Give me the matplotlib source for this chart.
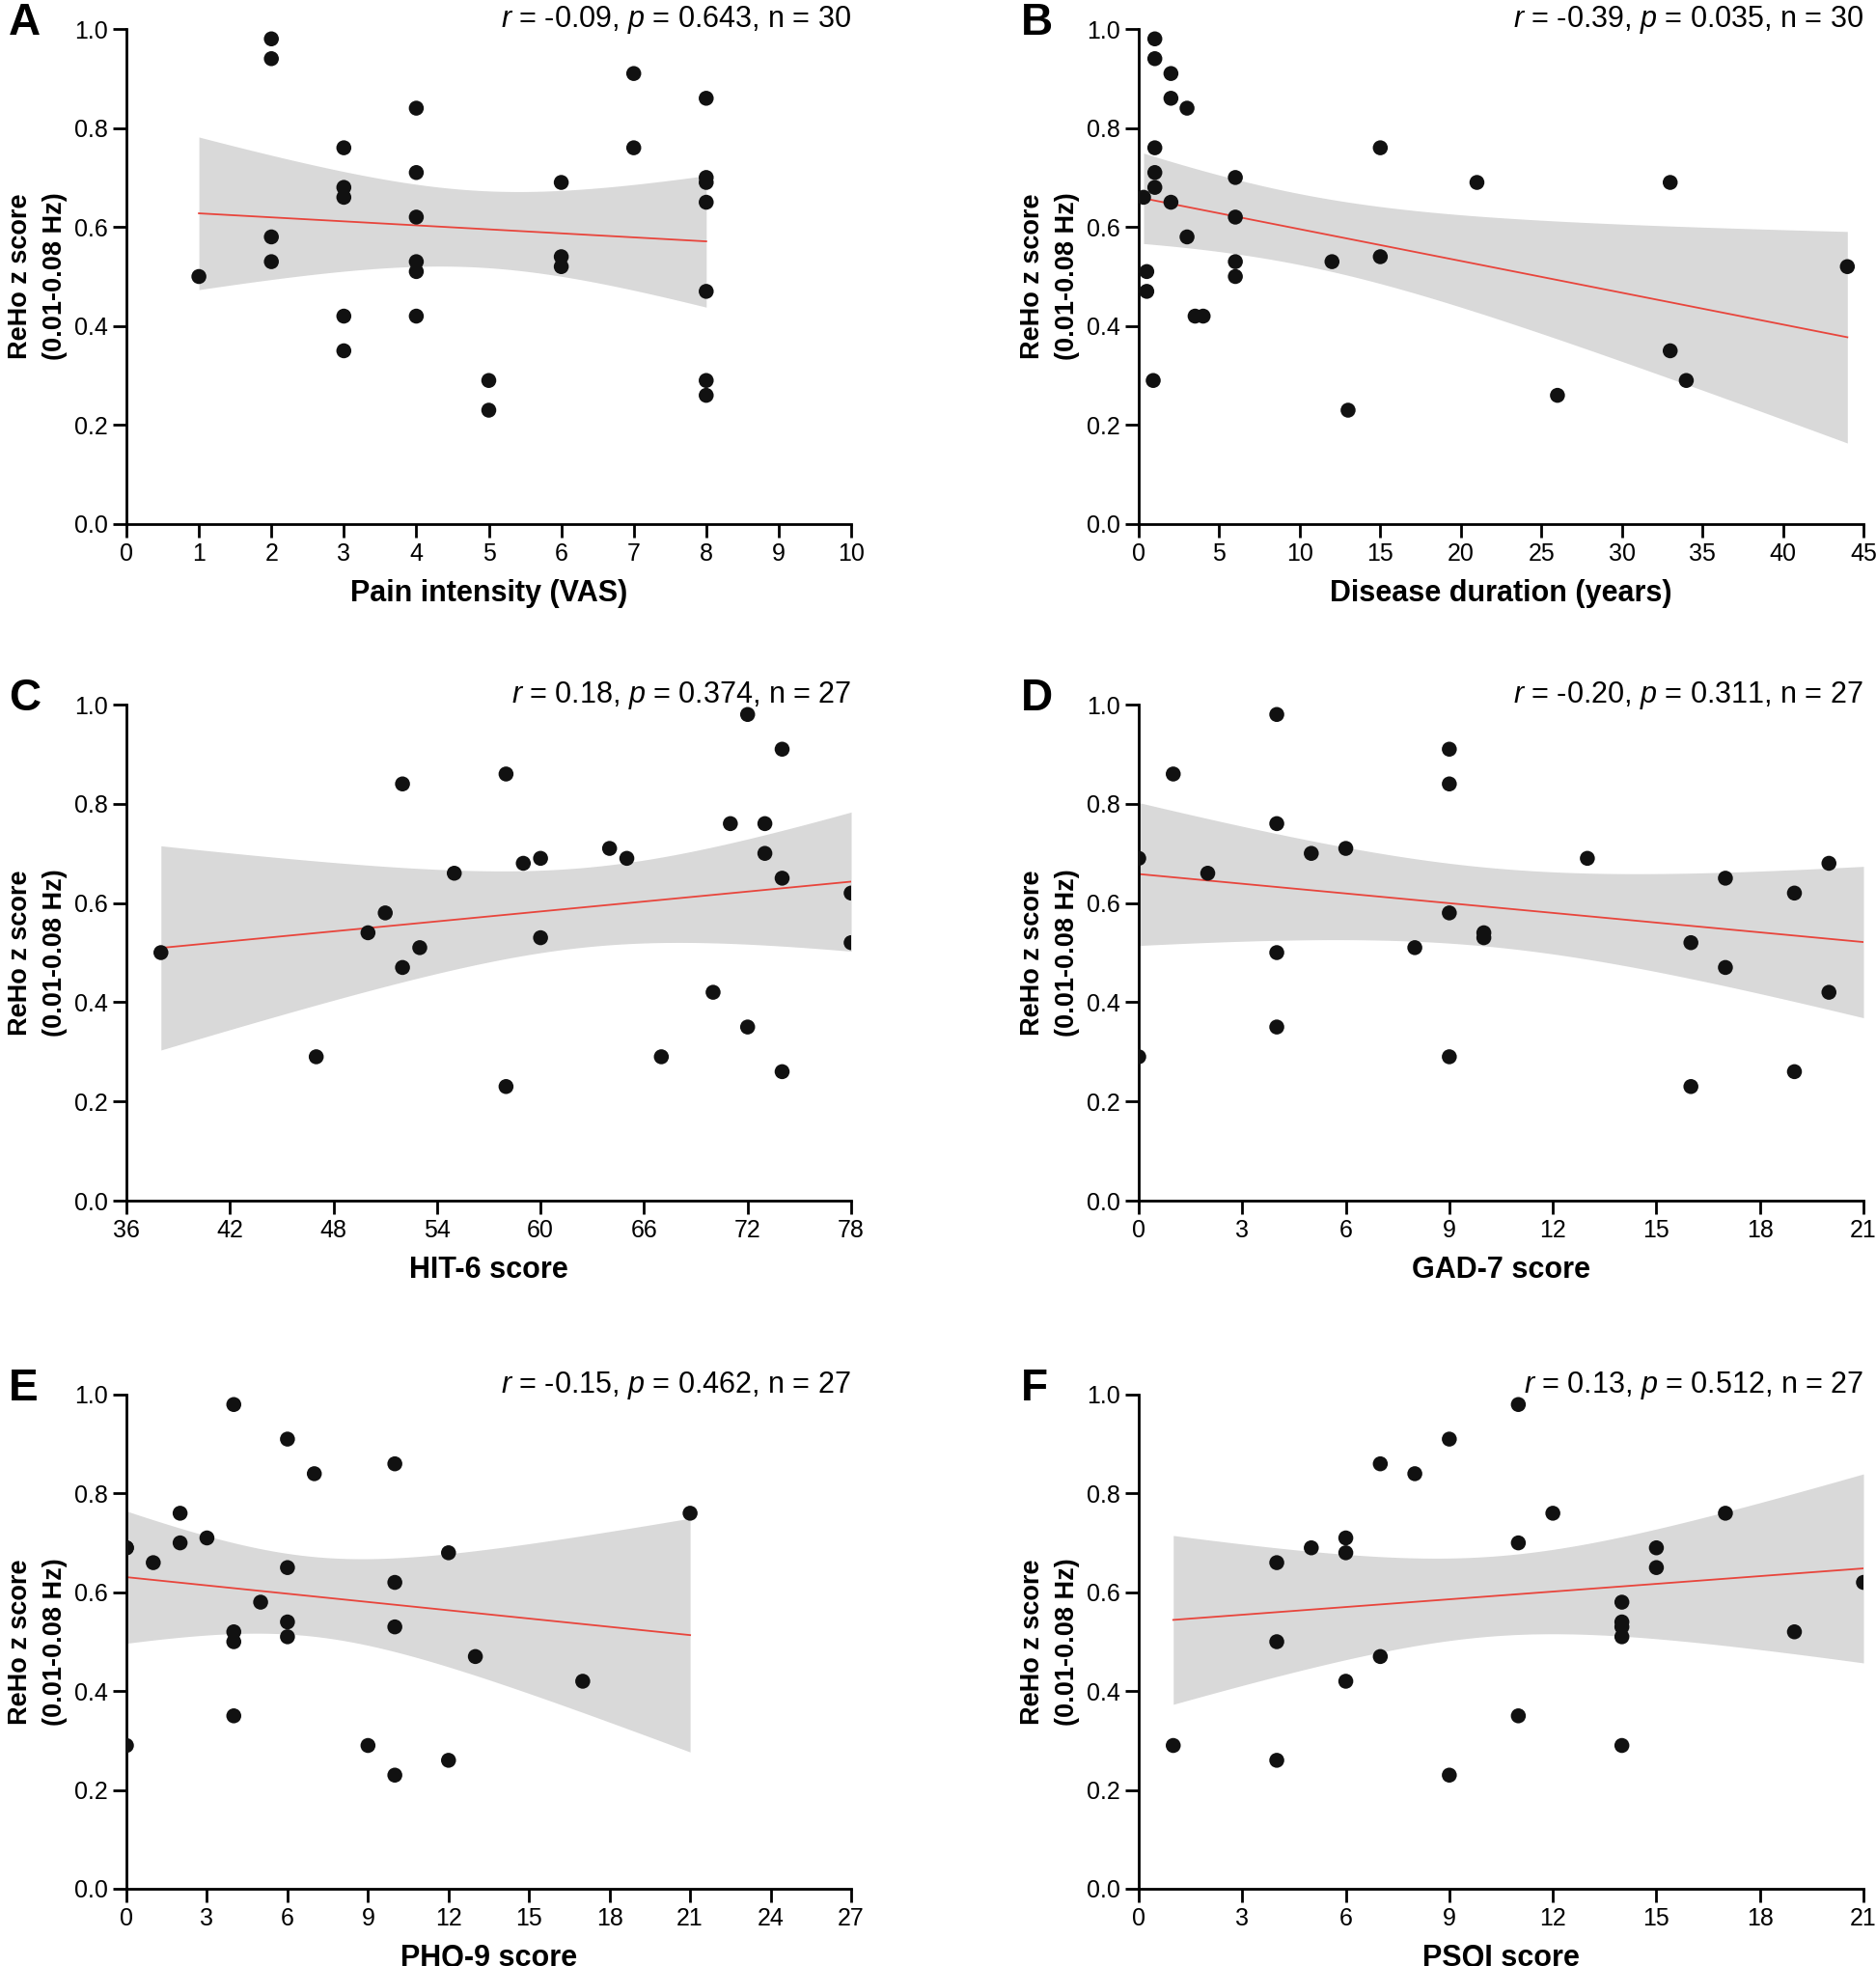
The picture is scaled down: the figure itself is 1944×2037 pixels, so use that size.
import math
import numpy as np
import matplotlib
matplotlib.use("Agg")
import matplotlib.pyplot as plt

plt.rcParams['font.family'] = ['Liberation Sans', 'DejaVu Sans']
plt.rcParams['mathtext.fontset'] = 'custom'
plt.rcParams['mathtext.rm'] = 'Liberation Sans'
plt.rcParams['mathtext.it'] = 'Liberation Sans:italic'

# ---------------- data ----------------
vas_x = [1, 2, 2, 2, 2, 3, 3, 3, 3, 3, 4, 4, 4, 4, 4, 4, 5, 5, 6, 6, 6, 7, 7, 8, 8, 8, 8, 8, 8, 8]
vas_y = [0.50, 0.98, 0.94, 0.58, 0.53, 0.76, 0.68, 0.66, 0.42, 0.35, 0.84, 0.71, 0.62, 0.53, 0.51, 0.42,
         0.29, 0.23, 0.69, 0.54, 0.52, 0.91, 0.76, 0.86, 0.70, 0.69, 0.65, 0.47, 0.29, 0.26]

dur_x = [1, 1, 2, 2, 3, 1, 1, 1, 0.3, 2, 3, 0.5, 0.5, 3.5, 4, 0.9, 6, 6, 6, 6, 12, 13, 15, 15, 21, 26, 33, 33, 34, 44]
dur_y = [0.98, 0.94, 0.91, 0.86, 0.84, 0.76, 0.71, 0.68, 0.66, 0.65, 0.58, 0.51, 0.47, 0.42, 0.42, 0.29,
         0.70, 0.62, 0.53, 0.50, 0.53, 0.23, 0.76, 0.54, 0.69, 0.26, 0.69, 0.35, 0.29, 0.52]

hit_x = [38, 47, 50, 51, 52, 52, 53, 55, 58, 58, 59, 60, 60, 64, 65, 67, 70, 71, 72, 72, 73, 73, 74, 74, 74, 78, 78]
hit_y = [0.50, 0.29, 0.54, 0.58, 0.84, 0.47, 0.51, 0.66, 0.86, 0.23, 0.68, 0.69, 0.53, 0.71, 0.69, 0.29,
         0.42, 0.76, 0.98, 0.35, 0.76, 0.70, 0.91, 0.65, 0.26, 0.62, 0.52]

# GAD-7: 26 visible points; the 27th subject (x=21) is not visible in the figure but enters the fit
gad_x = [0, 0, 1, 2, 4, 4, 4, 4, 5, 6, 8, 9, 9, 9, 9, 10, 10, 13, 16, 16, 17, 17, 19, 19, 20, 20]
gad_y = [0.69, 0.29, 0.86, 0.66, 0.98, 0.76, 0.50, 0.35, 0.70, 0.71, 0.51, 0.91, 0.84, 0.58, 0.29,
         0.54, 0.53, 0.69, 0.52, 0.23, 0.65, 0.47, 0.62, 0.26, 0.68, 0.42]
gad_hidden_x = [21]
gad_hidden_y = [0.76]

phq_x = [0, 0, 0, 1, 2, 2, 3, 4, 4, 4, 4, 5, 6, 6, 6, 6, 7, 9, 10, 10, 10, 10, 12, 12, 13, 17, 21]
phq_y = [0.69, 0.69, 0.29, 0.66, 0.76, 0.70, 0.71, 0.98, 0.52, 0.50, 0.35, 0.58, 0.91, 0.65, 0.54, 0.51,
         0.84, 0.29, 0.86, 0.62, 0.53, 0.23, 0.68, 0.26, 0.47, 0.42, 0.76]

psqi_x = [1, 4, 4, 4, 5, 6, 6, 6, 7, 7, 8, 9, 9, 11, 11, 11, 12, 14, 14, 14, 14, 14, 15, 15, 17, 19, 21]
psqi_y = [0.29, 0.66, 0.50, 0.26, 0.69, 0.71, 0.68, 0.42, 0.86, 0.47, 0.84, 0.91, 0.23, 0.98, 0.70, 0.35,
          0.76, 0.58, 0.54, 0.53, 0.51, 0.29, 0.69, 0.65, 0.76, 0.52, 0.62]

panel_letters = ['A', 'B', 'C', 'D', 'E', 'F']
x_labels = ['Pain intensity (VAS)', 'Disease duration (years)', 'HIT-6 score',
            'GAD-7 score', 'PHQ-9 score', 'PSQI score']
stats_text = ['$\\mathit{r}$ = -0.09, $\\mathit{p}$ = 0.643, n = 30',
              '$\\mathit{r}$ = -0.39, $\\mathit{p}$ = 0.035, n = 30',
              '$\\mathit{r}$ = 0.18, $\\mathit{p}$ = 0.374, n = 27',
              '$\\mathit{r}$ = -0.20, $\\mathit{p}$ = 0.311, n = 27',
              '$\\mathit{r}$ = -0.15, $\\mathit{p}$ = 0.462, n = 27',
              '$\\mathit{r}$ = 0.13, $\\mathit{p}$ = 0.512, n = 27']
x_ranges = [(0, 10, 1), (0, 45, 5), (36, 78, 6), (0, 21, 3), (0, 27, 3), (0, 21, 3)]
y_label = 'ReHo z score\n(0.01-0.08 Hz)'
y_ticks = [0.0, 0.2, 0.4, 0.6, 0.8, 1.0]

# (drawn x, drawn y, extra x for fit only, extra y for fit only)
datasets = [(vas_x, vas_y, [], []), (dur_x, dur_y, [], []), (hit_x, hit_y, [], []),
            (gad_x, gad_y, gad_hidden_x, gad_hidden_y), (phq_x, phq_y, [], []),
            (psqi_x, psqi_y, [], [])]


def t_crit(df):
    try:
        from scipy import stats
        return stats.t.ppf(0.975, df)
    except Exception:
        z = 1.959964
        return (z + (z**3 + z) / (4 * df) + (5 * z**5 + 16 * z**3 + 3 * z) / (96 * df**2))


def fit_ci(x, y):
    x = np.asarray(x, float)
    y = np.asarray(y, float)
    n = len(x)
    b, a = np.polyfit(x, y, 1)
    xs = np.linspace(x.min(), x.max(), 200)
    yhat = a + b * xs
    resid = y - (a + b * x)
    s = math.sqrt(np.sum(resid**2) / (n - 2))
    sxx = np.sum((x - x.mean())**2)
    se = s * np.sqrt(1.0 / n + (xs - x.mean())**2 / sxx)
    t = t_crit(n - 2)
    return xs, yhat, yhat - t * se, yhat + t * se


W, H = 1944, 2037
fig = plt.figure(figsize=(W / 100, H / 100), dpi=100)

cols = [(131, 882), (1180, 1931)]
rows = [(30, 543), (730, 1244), (1445, 1957)]

for i, (xd, yd, xh, yh) in enumerate(datasets):
    r, c = divmod(i, 2)
    l, rr = cols[c]
    t, b = rows[r]
    ax = fig.add_axes([l / W, 1 - b / H, (rr - l) / W, (b - t) / H])
    xs, yhat, lo, hi = fit_ci(list(xd) + list(xh), list(yd) + list(yh))
    ax.fill_between(xs, lo, hi, color='#d9d9d9', lw=0, zorder=1)
    ax.plot(xs, yhat, color='#e8453c', lw=1.3, zorder=2)
    ax.scatter(xd, yd, s=125, color='#111111', edgecolors='none', zorder=3)

    x0, x1, step = x_ranges[i]
    ax.set_xlim(x0, x1)
    ax.set_ylim(0, 1.0)
    ax.set_xticks(np.arange(x0, x1 + 0.001, step))
    ax.set_yticks(y_ticks)
    ax.set_yticklabels([f'{v:.1f}' for v in y_ticks])
    for sp in ['top', 'right']:
        ax.spines[sp].set_visible(False)
    for sp in ['left', 'bottom']:
        ax.spines[sp].set_linewidth(2.0)
    ax.tick_params(direction='out', length=10, width=2.0, labelsize=18, pad=4)
    ax.set_xlabel(x_labels[i], fontsize=22, fontweight='bold', labelpad=10)
    ax.set_ylabel(y_label, fontsize=19.5, fontweight='bold', labelpad=5, linespacing=1.5)

    fig.text(rr / W, 1 - (t - 26) / H, stats_text[i], ha='right', va='top', fontsize=22)
    fig.text((l - 122) / W, 1 - (t - 28) / H, panel_letters[i], ha='left', va='top',
             fontsize=33, fontweight='bold')

fig.savefig('out.png', dpi=100)
